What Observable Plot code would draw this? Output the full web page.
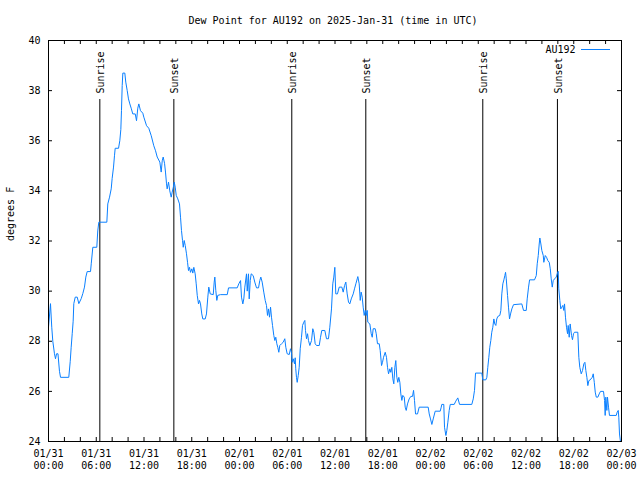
<!DOCTYPE html>
<html>
<head>
<meta charset="utf-8">
<script src="https://cdn.jsdelivr.net/npm/d3@7"></script>
<script src="https://cdn.jsdelivr.net/npm/@observablehq/plot@0.6"></script>
<style>
  html, body { margin: 0; padding: 0; background: white; }
</style>
</head>
<body>
<div id="chart"></div>
<script>
const title = "Dew Point for AU192 on 2025-Jan-31 (time in UTC)";
const seriesName = "AU192";
const yLabel = "degrees F";

// hours since 2025-01-31 00:00 UTC
const hours = [
0.00,0.25,0.41,0.54,0.75,0.88,1.01,1.19,1.38,1.51,2.55,2.73,2.85,2.98,3.10,3.18,3.36,3.61,3.81,4.11,
4.31,4.52,4.69,4.86,5.28,5.37,5.57,6.07,6.19,6.32,7.33,7.45,7.67,7.88,8.00,8.17,8.29,8.38,8.80,8.96,
9.09,9.17,9.26,9.34,9.59,9.71,9.89,10.05,10.22,10.39,10.59,10.90,11.06,11.22,11.35,11.56,11.85,11.98,12.32,12.60,
12.91,13.23,13.45,13.66,13.99,14.16,14.29,14.41,14.58,14.70,14.83,14.91,15.08,15.24,15.42,15.54,15.67,15.80,15.92,16.05,
16.25,16.46,16.59,16.71,16.84,16.93,17.05,17.18,17.34,17.47,17.59,17.72,17.84,18.01,18.13,18.26,18.43,18.56,18.69,18.85,
18.97,19.10,19.26,19.39,19.69,19.85,20.02,20.14,20.32,20.70,20.82,20.90,21.02,21.15,21.27,21.61,22.46,22.62,23.71,23.91,
24.13,24.25,24.42,24.54,24.67,24.88,24.97,25.13,25.22,25.35,25.47,25.72,25.92,26.14,26.39,26.55,26.68,26.85,27.05,27.23,
27.39,27.52,27.64,27.77,27.90,28.02,28.15,28.31,28.44,28.56,28.69,28.81,28.94,29.06,29.28,29.49,29.69,29.82,29.99,30.25,
30.41,30.53,30.62,30.75,30.91,31.00,31.07,31.16,31.25,31.38,31.50,31.63,31.79,31.92,32.08,32.21,32.29,32.42,32.55,32.67,
32.84,33.05,33.21,33.34,33.51,33.68,34.02,34.18,34.34,34.72,34.93,35.18,35.35,35.56,35.72,35.85,35.98,36.10,36.31,36.53,
36.86,37.03,37.20,37.36,37.53,37.70,37.86,38.04,38.29,38.45,38.62,38.79,38.87,39.04,39.17,39.29,39.42,39.54,39.67,39.80,
39.92,40.05,40.12,40.38,40.55,40.68,40.80,41.05,41.18,41.34,41.56,41.68,41.85,41.97,42.10,42.31,42.47,42.60,42.73,42.89,
43.01,43.14,43.27,43.39,43.52,43.64,43.77,43.89,44.02,44.15,44.27,44.40,44.52,44.70,44.82,44.95,45.11,45.32,45.53,45.74,
45.87,45.99,46.12,46.37,46.58,47.71,47.84,48.00,48.17,48.34,48.59,49.22,49.35,49.42,49.67,49.76,49.93,50.05,50.18,50.35,
50.48,50.98,51.18,51.43,51.65,53.19,53.37,53.53,53.66,54.45,54.57,54.95,55.08,55.20,55.33,55.45,55.58,55.70,55.83,55.96,
56.08,56.21,56.33,56.46,56.71,56.84,56.96,57.09,57.22,57.34,57.43,57.52,57.68,57.80,57.93,58.06,58.22,58.43,59.47,59.69,
60.03,60.15,60.32,60.45,61.07,61.29,61.41,61.54,61.66,61.74,61.87,61.99,62.17,62.24,62.42,62.58,62.74,62.92,63.05,63.17,
63.30,63.42,63.59,63.80,63.92,64.05,64.12,64.25,64.37,64.50,64.63,64.75,64.84,64.96,65.09,65.22,65.30,65.43,65.55,65.72,
65.84,65.97,66.10,66.51,66.64,66.76,66.94,67.10,67.27,67.40,67.52,67.65,67.77,67.90,68.07,68.32,68.45,68.58,68.70,68.83,
69.03,69.20,69.36,69.74,69.87,69.95,70.03,70.16,70.24,70.37,70.49,71.34,71.46,71.59,71.66,71.75,71.87
];
const dewPoint = [
28.56,29.5,28.56,28.0,27.5,27.3,27.5,27.5,26.8,26.56,26.56,27.2,27.76,28.3,28.8,29.5,29.76,29.76,29.5,29.7,
29.9,30.16,30.56,30.78,30.78,31.09,31.75,31.75,32.4,32.75,32.75,33.48,33.75,34.08,34.5,34.95,35.4,35.7,35.7,36.0,
36.45,37.2,38.2,38.7,38.7,38.34,38.0,37.67,37.47,37.3,37.07,37.07,36.8,37.3,37.47,37.2,37.1,36.94,36.6,36.5,
36.2,35.8,35.6,35.35,35.15,34.75,35.2,35.35,35.1,34.75,34.28,34.08,34.35,34.0,33.75,33.95,34.12,34.35,34.15,33.82,
33.68,33.48,32.95,32.42,32.02,31.75,32.02,31.82,31.49,31.15,30.82,30.95,30.75,30.89,30.72,30.95,30.69,30.29,29.83,29.49,
29.63,29.49,29.09,28.89,28.89,29.09,29.76,30.16,29.89,29.86,30.36,30.56,30.03,29.63,29.83,29.86,29.86,30.13,30.13,30.29,
30.42,29.76,29.49,29.69,30.16,30.69,30.0,30.69,29.69,30.42,30.69,30.62,30.36,30.13,30.13,30.42,30.56,30.36,29.96,29.63,
29.43,29.03,29.29,28.96,29.36,28.96,28.63,28.23,28.03,28.16,27.9,27.76,27.56,27.83,27.9,27.96,28.1,27.76,27.5,27.47,
27.7,27.56,27.16,27.3,27.1,27.34,26.9,26.56,26.36,26.63,26.96,27.7,28.16,28.63,28.76,28.83,28.43,28.1,28.3,28.03,
27.83,28.03,28.5,28.36,27.9,27.83,27.83,28.16,28.43,28.43,28.1,28.1,28.56,29.29,30.29,30.56,30.95,29.89,29.89,30.16,
30.16,29.96,30.22,30.36,29.89,29.56,29.49,29.69,29.89,30.09,30.29,30.49,30.58,30.29,29.63,29.96,29.76,29.36,29.03,29.23,
29.03,29.23,28.76,28.69,28.3,28.16,28.5,28.5,28.3,27.9,27.9,27.63,27.03,27.16,27.36,27.56,27.36,26.96,26.7,26.9,
26.76,26.96,26.5,26.3,26.96,27.23,26.56,26.36,26.56,26.36,25.9,25.64,25.84,25.77,25.37,25.24,25.5,25.7,25.8,25.8,
26.04,25.64,25.1,25.1,25.37,25.37,25.1,24.9,24.68,24.9,25.21,25.21,25.37,25.48,25.48,24.57,24.24,24.44,24.77,25.24,
25.48,25.48,25.61,25.74,25.48,25.48,25.7,26.04,26.73,26.73,26.46,26.46,26.56,26.96,27.36,27.76,28.03,28.36,28.56,28.89,
28.69,28.63,28.89,28.99,29.03,29.23,29.89,30.29,30.45,30.62,30.75,30.49,29.83,29.36,28.89,29.09,29.29,29.46,29.49,29.23,
29.23,29.69,30.16,30.45,30.45,30.62,31.09,31.42,31.88,32.12,31.88,31.62,31.42,31.15,31.42,31.35,31.22,31.15,30.89,30.49,
30.16,30.42,30.49,30.56,30.69,30.79,30.09,29.63,29.29,29.36,29.43,29.23,29.49,28.96,28.56,28.3,28.63,28.16,28.69,28.23,
28.06,28.3,28.36,28.36,27.36,26.96,26.7,26.83,27.1,27.16,26.83,26.56,26.23,26.43,26.46,26.56,26.7,26.36,25.97,25.77,
25.77,25.9,26.0,26.0,25.64,25.04,25.77,25.24,25.77,25.37,25.04,25.04,25.17,25.24,24.97,24.3,24.0
];

const sunriseHours = [6.45, 30.57, 54.57];
const sunsetHours = [15.75, 39.87, 63.95];

const xTickHours = [0, 6, 12, 18, 24, 30, 36, 42, 48, 54, 60, 66, 72];
const xTickLabels = [
  "01/31\n00:00", "01/31\n06:00", "01/31\n12:00", "01/31\n18:00",
  "02/01\n00:00", "02/01\n06:00", "02/01\n12:00", "02/01\n18:00",
  "02/02\n00:00", "02/02\n06:00", "02/02\n12:00", "02/02\n18:00",
  "02/03\n00:00"
];
const yTicks = [24, 26, 28, 30, 32, 34, 36, 38, 40];

const data = hours.map((h, i) => ({h, v: dewPoint[i]}));

const W = 640, H = 480;
const mT = 40, mB = 39, mL = 48, mR = 19;
const fw = W - mL - mR, fh = H - mT - mB;
const tickLen = 4;
const minorX = d3.range(0, 73, 2);

const lineColor = "#0a80ff";

const plot = Plot.plot({
  width: W, height: H,
  marginTop: mT, marginBottom: mB, marginLeft: mL, marginRight: mR,
  style: {fontFamily: "'DejaVu Sans Mono', monospace", fontSize: "10px", background: "white", color: "black"},
  x: {domain: [0, 72]},
  y: {domain: [24, 40]},
  marks: [
    Plot.axisX({ticks: xTickHours, tickFormat: d => xTickLabels[xTickHours.indexOf(d)], tickSize: 0, tickPadding: 7, lineHeight: 1.2, label: null}),
    Plot.axisY({ticks: yTicks, tickFormat: d => String(d), tickSize: 0, tickPadding: 8, label: null}),
    // inward tick marks on all four sides
    Plot.ruleX(minorX, {x: d => d, insetTop: fh - tickLen, stroke: "black"}),
    Plot.ruleX(minorX, {x: d => d, insetBottom: fh - tickLen, stroke: "black"}),
    Plot.ruleY(yTicks, {y: d => d, insetRight: fw - tickLen, stroke: "black"}),
    Plot.ruleY(yTicks, {y: d => d, insetLeft: fw - tickLen, stroke: "black"}),
    // sunrise / sunset markers
    Plot.ruleX(sunriseHours.concat(sunsetHours), {x: d => d, insetTop: 59, stroke: "black"}),
    Plot.text(sunriseHours, {x: d => d, text: () => "Sunrise", frameAnchor: "top", dy: 53, dx: 1, rotate: -90, textAnchor: "start", lineAnchor: "middle", fill: "black"}),
    Plot.text(sunsetHours, {x: d => d, text: () => "Sunset", frameAnchor: "top", dy: 53, dx: 1, rotate: -90, textAnchor: "start", lineAnchor: "middle", fill: "black"}),
    // series
    Plot.line(data, {x: "h", y: "v", stroke: lineColor, strokeWidth: 1}),
    Plot.frame({stroke: "black"}),
    // title and y label
    Plot.text([title], {frameAnchor: "top", dy: -24, dx: -2, fill: "black"}),
    Plot.text([yLabel], {frameAnchor: "left", dx: -38, rotate: -90, fill: "black"}),
    // legend text
    Plot.text([seriesName], {frameAnchor: "top-right", dx: -46, dy: 5, textAnchor: "end", fill: "black"})
  ]
});

// legend line sample
d3.select(plot).append("line")
  .attr("x1", W - mR - 40).attr("x2", W - mR - 11)
  .attr("y1", mT + 9.5).attr("y2", mT + 9.5)
  .attr("stroke", lineColor).attr("stroke-width", 1);

document.getElementById("chart").appendChild(plot);
</script>
</body>
</html>
